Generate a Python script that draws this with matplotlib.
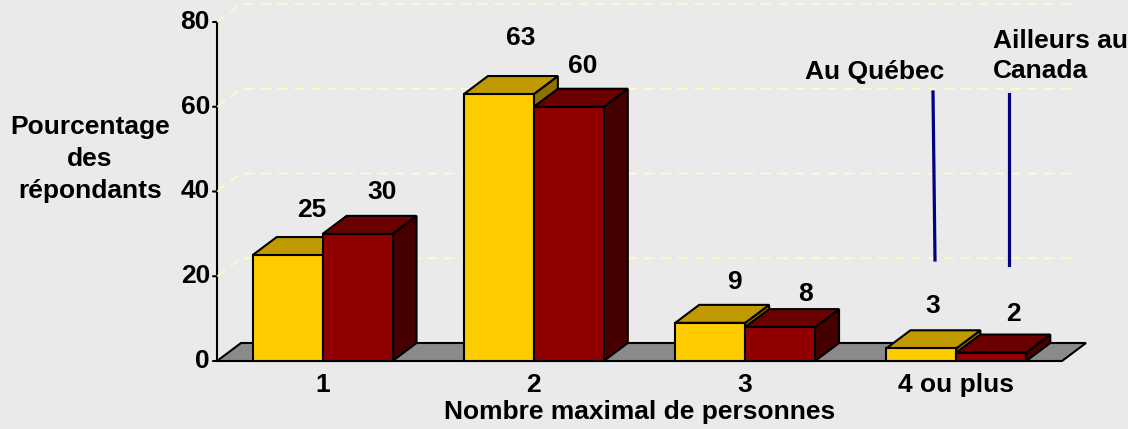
import numpy as np
import matplotlib.pyplot as plt
from matplotlib.patches import Polygon
from matplotlib.lines import Line2D
from matplotlib.transforms import IdentityTransform

plt.rcParams['font.family'] = ['Liberation Sans', 'DejaVu Sans']
plt.rcParams['font.weight'] = 'bold'

# données
categories = ['1', '2', '3', '4 ou plus']
quebec = [25, 63, 9, 3]
canada = [30, 60, 8, 2]
series_names = ['Au Québec', 'Ailleurs au\nCanada']
yticks = [0, 20, 40, 60, 80]

BG = '#EAEAEA'
DX, DY = 24, 18          # profondeur 3D en pixels
BAR_W = 0.331
FS = 19
label_nudge = [(0, 4), (0, 1), (-2, 15), (-10, 0), (0, 0), (1, -8), (-13, 1), (-2, -2)]

quebec_cols = ('#FFCC00', '#C09A00', '#8C7000')   # face, dessus, côté
canada_cols = ('#910000', '#6A0000', '#460000')

fig = plt.figure(figsize=(11.28, 4.29), dpi=100, facecolor=BG)
ax = fig.add_axes([217/1128, 68/429, 845/1128, 339/429])
ax.set_xlim(0.5, 4.5)
ax.set_ylim(0, 80)
ax.axis('off')


def px(x, y, back=False):
    X, Y = ax.transData.transform((x, y))
    if back:
        X, Y = X + DX, Y + DY
    return (X, Y)


def face(pts, color, z=2):
    p = Polygon([px(*q) for q in pts], closed=True, facecolor=color,
                edgecolor='black', lw=1.5, transform=IdentityTransform(),
                clip_on=False, zorder=z, joinstyle='miter')
    fig.add_artist(p)


# grille du mur du fond
for t in yticks[1:]:
    pts = [px(0.5, t), px(0.5, t, True), px(4.46, t, True)]
    fig.add_artist(Line2D([p[0] for p in pts], [p[1] for p in pts],
                          color='#FFFFC8', lw=1, ls=(0, (7, 5)),
                          transform=IdentityTransform(), zorder=1))

# plancher
face([(0.5, 0), (4.5, 0), (4.5, 0, True), (0.5, 0, True)], '#8A8A8A', z=1.5)

# barres 3D
k = 0
for i in range(len(categories)):
    c = i + 1
    for x0, v, cols in [(c - BAR_W, quebec[i], quebec_cols), (c, canada[i], canada_cols)]:
        x1 = x0 + BAR_W
        face([(x1, 0), (x1, 0, True), (x1, v, True), (x1, v)], cols[2])
        face([(x0, v), (x1, v), (x1, v, True), (x0, v, True)], cols[1])
        face([(x0, 0), (x1, 0), (x1, v), (x0, v)], cols[0])
        nx, ny = label_nudge[k]
        ax.annotate(str(v), xy=((x0 + x1) / 2, v), xytext=(DX + nx, DY + 23 + ny),
                    textcoords='offset pixels', ha='center', va='center',
                    fontsize=FS, annotation_clip=False)
        k += 1

# axe vertical
ax.plot([0.5, 0.5], [0, 80], color='black', lw=1.5, clip_on=False, zorder=5)
for t in yticks:
    ax.annotate('', xy=(0.5, t), xytext=(-4, 0), textcoords='offset pixels',
                arrowprops=dict(arrowstyle='-', lw=1.5, color='black',
                                shrinkA=0, shrinkB=0), annotation_clip=False)
    ax.annotate(str(t), xy=(0.5, t), xytext=(-7, 0), textcoords='offset pixels',
                ha='right', va='center', fontsize=FS, annotation_clip=False)

# étiquettes des catégories
for i, lab in enumerate(categories):
    ax.annotate(lab, xy=(i + 1, 0), xytext=(0, -24), textcoords='offset pixels',
                ha='center', va='center', fontsize=FS, annotation_clip=False)

fig.text(640/1128, 1 - 412/429, 'Nombre maximal de personnes',
         ha='center', va='center', fontsize=FS)
fig.text(90/1128, 1 - 159/429, 'Pourcentage\ndes\nrépondants',
         ha='center', va='center', fontsize=FS, linespacing=1.42)

# légende
fig.text(875/1128, 1 - 72/429, series_names[0], ha='center', va='center', fontsize=FS)
fig.text(993/1128, 1 - 56/429, series_names[1], ha='left', va='center',
         fontsize=FS, linespacing=1.36)
fig.add_artist(Line2D([933/1128, 935/1128], [1 - 92/429, 1 - 260/429],
                      color='#000080', lw=2.3))
fig.add_artist(Line2D([1009/1128, 1009/1128], [1 - 94/429, 1 - 265/429],
                      color='#000080', lw=2.3))

fig.savefig('out.png', dpi=100, facecolor=BG)
